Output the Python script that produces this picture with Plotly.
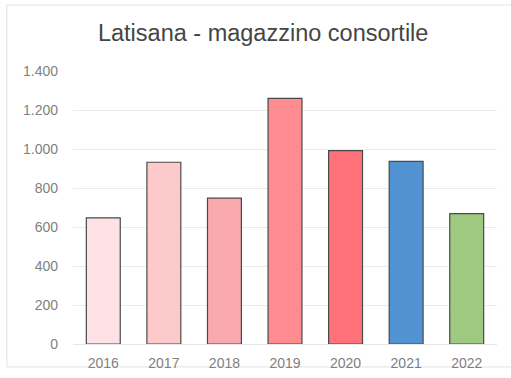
import plotly.graph_objects as go

# Annual values for the consortium warehouse in Latisana
years = ["2016", "2017", "2018", "2019", "2020", "2021", "2022"]
values = [647, 932, 748, 1260, 992, 937, 669]
bar_colors = ["#FDE1E4", "#FDCACB", "#FAA9AE", "#FF8C90", "#FF727A", "#5192D3", "#9FC981"]

y_ticks = [0, 200, 400, 600, 800, 1000, 1200, 1400]

fig = go.Figure(
    go.Bar(
        x=years,
        y=values,
        marker=dict(color=bar_colors, line=dict(color="#4a4a4a", width=1.2)),
        width=0.56,
    )
)

fig.update_layout(
    width=511,
    height=378,
    margin=dict(l=73, r=14, t=71, b=34),
    paper_bgcolor="white",
    plot_bgcolor="white",
    separators=",.",
    showlegend=False,
    title=dict(
        text="Latisana - magazzino consortile",
        x=0.515,
        xanchor="center",
        y=0.912,
        yanchor="middle",
        font=dict(family="Liberation Sans, Arial, sans-serif", size=23.5, color="#454545"),
    ),
    font=dict(family="Liberation Sans, Arial, sans-serif", color="#7f7f7f", size=14),
)

fig.update_xaxes(
    automargin=False,
    showgrid=False,
    showline=True,
    linecolor="#e6e6e6",
    linewidth=1,
    ticks="",
    ticklabelstandoff=6,
    tickfont=dict(size=14, color="#7f7f7f"),
)
fig.update_yaxes(
    automargin=False,
    range=[0, 1400],
    tickvals=y_ticks,
    tickformat=",d",
    showgrid=True,
    gridcolor="#ebebeb",
    gridwidth=1,
    zeroline=False,
    showline=False,
    ticks="",
    ticklabelstandoff=14,
    tickfont=dict(size=14, color="#7f7f7f"),
)

# Light frame around the chart area
fig.add_shape(
    type="rect",
    xref="paper",
    yref="paper",
    x0=-0.156,
    x1=1.05,
    y0=-0.084,
    y1=1.242,
    line=dict(color="#e3e3e3", width=1),
    fillcolor="rgba(0,0,0,0)",
    layer="below",
)

fig.write_html("out.html")
